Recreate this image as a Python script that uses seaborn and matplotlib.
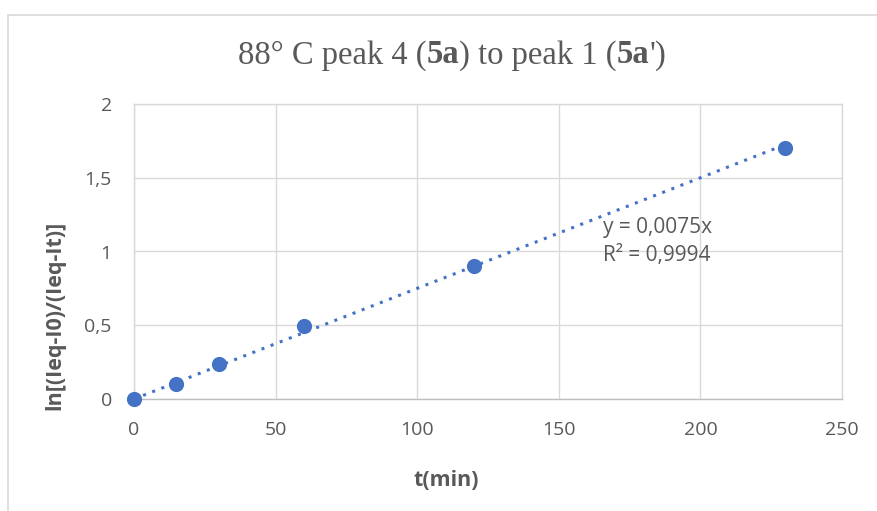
import matplotlib
matplotlib.use("Agg")
import matplotlib.pyplot as plt
import seaborn as sns
import numpy as np
import pandas as pd
from matplotlib.patches import Rectangle
from matplotlib.offsetbox import TextArea, HPacker, AnchoredOffsetbox

# Data
t_min = [0, 15, 30, 60, 120, 230]
ln_ratio = [0.0, 0.105, 0.24, 0.495, 0.90, 1.70]
slope = 0.0075
r2 = 0.9994
x_ticks = [0, 50, 100, 150, 200, 250]
y_ticks = [0, 0.5, 1, 1.5, 2]
y_tick_labels = ["0", "0,5", "1", "1,5", "2"]
title_parts = ["88° C peak 4 (", "5a", ") to peak 1 (", "5a", "')"]

sns.set_theme(style="white")
plt.rcParams['font.family'] = ['Open Sans', 'DejaVu Sans']

blue = "#4472C4"
gray_text = "#595959"
grid_c = "#D9D9D9"

fig = plt.figure(figsize=(8.78, 5.11), dpi=100)
ax = fig.add_axes([134/878, 1-399/511, (842-134)/878, (399-104)/511])

df = pd.DataFrame({"t": t_min, "y": ln_ratio})
# trendline
xt = np.array([0, max(t_min)])
ax.plot(xt, slope*xt, linestyle=(0, (1, 2.2)), color=blue, lw=2.2, zorder=2)
sns.scatterplot(data=df, x="t", y="y", ax=ax, s=120, color=blue, edgecolor=blue, linewidth=0, zorder=3, clip_on=False)

ax.set_xlim(0, 250)
ax.set_ylim(0, 2)
ax.set_xticks(x_ticks)
ax.set_yticks(y_ticks)
ax.set_yticklabels(y_tick_labels)
ax.grid(True, color=grid_c, lw=1)
ax.set_axisbelow(True)
for s in ["top", "right", "left"]:
    ax.spines[s].set_color(grid_c)
    ax.spines[s].set_linewidth(1)
ax.spines["bottom"].set_color("#BFBFBF")
ax.spines["bottom"].set_linewidth(1)
ax.tick_params(axis="both", length=0, labelsize=14, colors=gray_text, pad=16)
ax.set_xlabel("t(min)", fontsize=15.5, fontweight="bold", color=gray_text)
ax.set_ylabel("ln[(Ieq-I0)/(Ieq-It)]", fontsize=15.5, fontweight="bold", color=gray_text)
ax.xaxis.set_label_coords((446.5-134)/708, (399-480)/295)
ax.yaxis.set_label_coords((55-134)/708, (399-315)/295)
ax.xaxis.label.set_va("center")
ax.yaxis.label.set_va("center")

ax.text(165.5, (399-227)/147.5, "y = 0,0075x", fontsize=15, color=gray_text, ha="left", va="center")
ax.text(165.5, (399-255)/147.5, "R² = 0,9994", fontsize=15, color=gray_text, ha="left", va="center")

# Title with bold parts
boxes = []
for p in title_parts:
    bold = p == "5a"
    boxes.append(TextArea(p, textprops=dict(fontsize=23.5, color=gray_text,
                                            family="Liberation Serif",
                                            fontweight="bold" if bold else "normal")))
pack = HPacker(children=boxes, align="baseline", pad=0, sep=0)
ab = AnchoredOffsetbox(loc="center", child=pack, frameon=False,
                       bbox_to_anchor=(452/878, 1-55/511), bbox_transform=fig.transFigure, pad=0, borderpad=0)
fig.add_artist(ab)

# outer chart border
fig.add_artist(Rectangle((8/878, -0.05), 1.2, 1-15/511+0.05, transform=fig.transFigure,
                         fill=False, edgecolor="#D9D9D9", lw=1.2))

fig.savefig("out.png", dpi=100)
